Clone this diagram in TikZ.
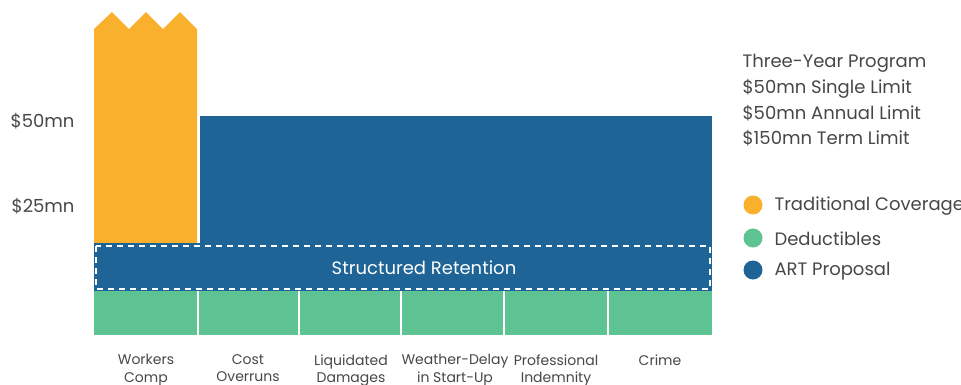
\documentclass[tikz,border=0pt]{standalone}
\usepackage{fontspec}
\setmainfont{Poppins}
\usepackage{tikz}
\definecolor{tradorange}{HTML}{F9B12D}
\definecolor{artblue}{HTML}{1F6496}
\definecolor{dedgreen}{HTML}{5DC392}
\definecolor{labelgray}{HTML}{474747}
\tikzset{
  axislabel/.style={text=labelgray, font=\fontsize{18}{20}\selectfont, anchor=east},
  collabel/.style={text=labelgray, font=\fontsize{14}{17.5}\selectfont, align=center, anchor=north},
  infotext/.style={text=labelgray, font=\fontsize{18}{25.7}\selectfont, align=left, anchor=north west},
  legendtext/.style={text=labelgray, font=\fontsize{18}{22}\selectfont, anchor=west},
  legenddot/.style={circle, minimum size=19pt, inner sep=0pt}
}
\begin{document}
\begin{tikzpicture}[x=1pt,y=-1pt]
          \useasboundingbox (0,0) rectangle (961,384);
          % Traditional coverage, cut off at the top
          \fill[tradorange] (94,243) -- (94,29) -- (112,12) -- (129,29) -- (146,12)
            -- (163,29) -- (180,12) -- (197,29) -- (197,243) -- cycle;
          % ART proposal
          \fill[artblue] (200,116) rectangle (712,243);
          % Structured retention band
          \fill[artblue] (94,243) rectangle (712,291);
          \draw[white, line width=2.5pt, dash pattern=on 6pt off 5pt] (96,246) rectangle (710,289);
          \node[text=white, font=\fontsize{18}{20}\selectfont] (retention) at (424,268) {Structured Retention};
          % Deductibles, one cell per line of cover
          \fill[dedgreen] (94,291) rectangle (712,335);
          \foreach \xd in {198,299,401,504,608}
            \draw[white, line width=2.5pt] (\xd,291) -- (\xd,335);
          % Column labels
          \foreach \xc/\name/\txt in {146/wc/Workers\\Comp, 248/co/Cost\\Overruns,
              351/ld/Liquidated\\Damages, 455/wd/Weather-Delay\\in Start-Up,
              556/pi/Professional\\Indemnity, 660/cr/Crime}
            \node[collabel] (\name) at (\xc,351) {\txt};
          % Limits on the left
          \node[axislabel] (fifty) at (78,121) {\$50mn};
          \node[axislabel] (twentyfive) at (78,206) {\$25mn};
          % Programme terms
          \node[infotext] (terms) at (739,51) {Three-Year Program\\ \$50mn Single Limit\\ \$50mn Annual Limit\\ \$150mn Term Limit};
          % Legend
          \node[legenddot, fill=tradorange] (dottrad) at (753,205) {};
          \node[legendtext] (trad) at (771,206) {Traditional Coverage};
          \node[legenddot, fill=dedgreen] (dotded) at (753,238) {};
          \node[legendtext] (ded) at (771,239) {Deductibles};
          \node[legenddot, fill=artblue] (dotart) at (753,270) {};
          \node[legendtext] (art) at (771,271) {ART Proposal};
        \end{tikzpicture}
\end{document}
